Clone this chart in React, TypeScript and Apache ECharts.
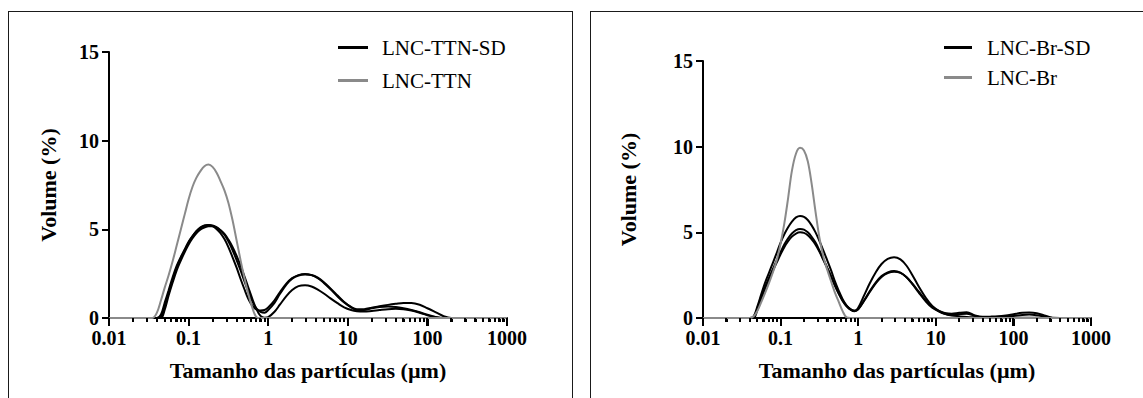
import React, { useEffect, useRef } from "react";
import * as echarts from "echarts";

// Particle sizes (µm) shared by every curve
const particleSizes = [
  0.01, 0.035, 0.04, 0.045, 0.05, 0.056, 0.063, 0.071, 0.08, 0.09,
  0.1, 0.112, 0.125, 0.14, 0.158, 0.178, 0.2, 0.224, 0.25, 0.282,
  0.316, 0.355, 0.4, 0.45, 0.5, 0.56, 0.63, 0.71, 0.8, 0.9,
  1, 1.2, 1.4, 1.7, 2, 2.4, 2.9, 3.5, 4.2, 5,
  6, 7.5, 9, 11, 13, 16, 20, 25, 32, 40,
  50, 63, 80, 100, 130, 160, 200, 250, 320, 1000,
];

// Left panel: LNC-TTN-SD replicates (black) and LNC-TTN (gray)
const ttnSD1 = [
  0, 0, 0, 0.2, 0.85, 1.55, 2.3, 2.95, 3.45, 3.9,
  4.3, 4.62, 4.9, 5.1, 5.22, 5.25, 5.18, 5.02, 4.8, 4.45,
  4.0, 3.45, 2.85, 2.2, 1.65, 1.1, 0.7, 0.48, 0.42, 0.45,
  0.6, 1.0, 1.45, 1.95, 2.25, 2.42, 2.48, 2.42, 2.25, 1.98,
  1.65, 1.2, 0.88, 0.62, 0.5, 0.5, 0.58, 0.66, 0.74, 0.8,
  0.85, 0.85, 0.75, 0.55, 0.3, 0.1, 0, 0, 0, 0,
];
const ttnSD2 = [
  0, 0, 0, 0.05, 0.65, 1.4, 2.15, 2.85, 3.4, 3.85,
  4.25, 4.6, 4.88, 5.08, 5.2, 5.25, 5.22, 5.12, 4.95, 4.7,
  4.32, 3.85, 3.28, 2.68, 2.1, 1.5, 0.95, 0.55, 0.35, 0.3,
  0.45, 0.85, 1.35, 1.9, 2.22, 2.4, 2.46, 2.43, 2.28, 2.02,
  1.68, 1.25, 0.9, 0.6, 0.45, 0.45, 0.55, 0.62, 0.65, 0.62,
  0.55, 0.45, 0.32, 0.18, 0.05, 0, 0, 0, 0, 0,
];
const ttnSD3 = [
  0, 0, 0, 0, 0.45, 1.25, 2.0, 2.7, 3.25, 3.75,
  4.15, 4.5, 4.78, 4.98, 5.1, 5.18, 5.18, 5.1, 4.96, 4.74,
  4.42, 4.02, 3.52, 2.95, 2.38, 1.75, 1.1, 0.5, 0.12, 0.02,
  0.05, 0.35, 0.75, 1.25, 1.58, 1.8, 1.85, 1.78, 1.6, 1.38,
  1.12, 0.82, 0.6, 0.45, 0.38, 0.36, 0.4, 0.45, 0.5, 0.52,
  0.5, 0.42, 0.3, 0.15, 0.04, 0, 0, 0, 0, 0,
];
const ttnRef = [
  0, 0, 0.3, 1.0, 1.7, 2.4, 3.2, 4.1, 5.0, 5.9,
  6.7, 7.4, 7.9, 8.27, 8.56, 8.65, 8.52, 8.2, 7.75, 7.2,
  6.5, 5.55, 4.4, 3.25, 2.3, 1.4, 0.6, 0.05, 0, 0,
  0, 0, 0, 0, 0, 0, 0, 0, 0, 0,
  0, 0, 0, 0, 0, 0, 0, 0, 0, 0,
  0, 0, 0, 0, 0, 0, 0, 0, 0, 0,
];

// Right panel: LNC-Br-SD replicates (black) and LNC-Br (gray)
const brSD1 = [
  0, 0, 0, 0.1, 0.65, 1.35, 2.05, 2.65, 3.25, 3.85,
  4.4, 4.9, 5.3, 5.63, 5.87, 5.95, 5.9, 5.72, 5.42, 5.0,
  4.5, 3.95, 3.35, 2.75, 2.15, 1.6, 1.1, 0.72, 0.5, 0.42,
  0.6, 1.35, 2.0, 2.7, 3.15, 3.45, 3.55, 3.42, 3.05, 2.5,
  1.85, 1.15, 0.7, 0.42, 0.3, 0.25, 0.3, 0.33, 0.15, 0.07,
  0.08, 0.1, 0.15, 0.22, 0.3, 0.32, 0.28, 0.15, 0.02, 0,
];
const brSD2 = [
  0, 0, 0, 0.05, 0.55, 1.2, 1.8, 2.35, 2.88, 3.4,
  3.85, 4.3, 4.65, 4.93, 5.13, 5.2, 5.16, 5.0, 4.75, 4.4,
  3.95, 3.45, 2.92, 2.4, 1.9, 1.42, 1.0, 0.68, 0.48, 0.4,
  0.5, 1.05, 1.55, 2.1, 2.45, 2.66, 2.74, 2.65, 2.38, 1.98,
  1.5, 0.95, 0.6, 0.38, 0.25, 0.18, 0.22, 0.25, 0.12, 0.05,
  0.05, 0.05, 0.08, 0.12, 0.18, 0.2, 0.16, 0.08, 0, 0,
];
const brSD3 = [
  0, 0, 0, 0, 0.45, 1.1, 1.7, 2.25, 2.78, 3.28,
  3.72, 4.15, 4.48, 4.75, 4.93, 5.0, 4.97, 4.83, 4.6, 4.28,
  3.88, 3.4, 2.9, 2.4, 1.92, 1.45, 1.02, 0.7, 0.5, 0.42,
  0.52, 1.02, 1.5, 2.05, 2.4, 2.62, 2.7, 2.63, 2.38, 2.0,
  1.55, 1.0, 0.65, 0.4, 0.25, 0.15, 0.1, 0.06, 0.04, 0.03,
  0.03, 0.03, 0.03, 0.02, 0.02, 0.02, 0.01, 0, 0, 0,
];
const brRef = [
  0, 0, 0, 0.1, 0.4, 0.9, 1.45, 2.05, 2.7, 3.45,
  4.35, 5.55, 7.0, 8.6, 9.6, 9.93, 9.78, 9.15, 7.9, 6.2,
  4.7, 3.6, 2.8, 2.1, 1.5, 0.95, 0.4, 0.03, 0, 0,
  0, 0, 0, 0, 0, 0, 0, 0, 0, 0,
  0, 0, 0, 0, 0, 0, 0, 0, 0, 0,
  0, 0, 0, 0, 0, 0, 0, 0, 0, 0,
];

const xTickValues = [0.01, 0.1, 1, 10, 100, 1000];
const xTickLabels = ["0.01", "0.1", "1", "10", "100", "1000"];
const minorMultipliers = [2, 3, 4, 5, 6, 7, 8, 9];
const minorTickValues = xTickValues
  .slice(0, 5)
  .flatMap((d) => minorMultipliers.map((m) => Number((d * m).toPrecision(3))));

const FONT = "Liberation Serif";
const BLACK = "#000000";
const GRAY = "#8a8a8a";

const pairs = (vals: number[]) => particleSizes.map((s, i) => [s, vals[i]]);

const lineSeries = (name: string, vals: number[], color: string, axisIdx: number) => ({
  type: "line",
  name,
  data: pairs(vals),
  xAxisIndex: axisIdx,
  yAxisIndex: axisIdx,
  smooth: 0.35,
  symbol: "none",
  lineStyle: { color, width: 2 },
  itemStyle: { color },
});

const labelFor = (v: number) => xTickLabels[Math.round(Math.log10(v)) + 2] ?? "";

const mainX = (gridIndex: number) => ({
  type: "log",
  logBase: 10,
  gridIndex,
  min: 0.01,
  max: 1000,
  name: "Tamanho das partículas (µm)",
  nameLocation: "middle",
  nameGap: 41,
  nameTextStyle: { fontFamily: FONT, fontWeight: "bold", fontSize: 22, color: BLACK },
  axisLine: { show: true, lineStyle: { color: BLACK, width: 2 } },
  axisTick: { show: true, length: 8, lineStyle: { color: BLACK, width: 2 } },
  minorTick: { show: true, splitNumber: 9, length: 4, lineStyle: { color: BLACK, width: 2 } },
  axisLabel: {
    formatter: labelFor,
    margin: 10,
    fontFamily: FONT,
    fontSize: 20,
    fontWeight: "bold",
    color: BLACK,
  },
  splitLine: { show: false },
});

const yAx = (gridIndex: number, nameGap: number) => ({
  type: "value",
  gridIndex,
  min: 0,
  max: 15,
  interval: 5,
  name: "Volume (%)",
  nameLocation: "middle",
  nameGap,
  nameRotate: 90,
  nameTextStyle: { fontFamily: FONT, fontWeight: "bold", fontSize: 22, color: BLACK },
  axisLine: { show: true, lineStyle: { color: BLACK, width: 2 } },
  axisTick: { show: true, length: 7, lineStyle: { color: BLACK, width: 2 } },
  axisLabel: { margin: 10, fontFamily: FONT, fontSize: 20, fontWeight: "bold", color: BLACK },
  splitLine: { show: false },
});

const legendCfg = (names: string[], left: number, top: number, itemWidth: number, itemGap: number, pad: number) => ({
  data: names,
  orient: "vertical",
  left,
  top,
  padding: 0,
  itemWidth,
  itemHeight: 3,
  itemGap,
  icon: "rect",
  selectedMode: false,
  textStyle: { fontFamily: FONT, fontSize: 21, color: BLACK, padding: [0, 0, 0, pad] },
});

const panelBox = (left: number, width: number): React.CSSProperties => ({
  position: "absolute",
  left,
  top: 11,
  width,
  height: 420,
  border: "1.5px solid #1a1a1a",
  boxSizing: "border-box",
  pointerEvents: "none",
});

export default function App() {
  const ref = useRef<HTMLDivElement>(null);
  const tickRef = useRef<HTMLDivElement>(null);
  useEffect(() => {
    if (!ref.current) return;
    const chart = echarts.init(ref.current, undefined, { renderer: "svg" });
    chart.setOption({
      animation: false,
      grid: [
        { left: 109, top: 52, width: 398, height: 266 },
        { left: 703, top: 61, width: 388, height: 257 },
      ],
      xAxis: [mainX(0), mainX(1)],
      yAxis: [yAx(0, 50), yAx(1, 64)],
      legend: [
        legendCfg(["LNC-TTN-SD", "LNC-TTN"], 338, 37, 30, 12, 9),
        legendCfg(["LNC-Br-SD", "LNC-Br"], 944, 37, 28, 9, 10),
      ],
      series: [
        lineSeries("LNC-TTN-SD", ttnSD1, BLACK, 0),
        lineSeries("LNC-TTN-SD", ttnSD2, BLACK, 0),
        lineSeries("LNC-TTN-SD", ttnSD3, BLACK, 0),
        lineSeries("LNC-TTN", ttnRef, GRAY, 0),
        lineSeries("LNC-Br-SD", brSD1, BLACK, 1),
        lineSeries("LNC-Br-SD", brSD2, BLACK, 1),
        lineSeries("LNC-Br-SD", brSD3, BLACK, 1),
        lineSeries("LNC-Br", brRef, GRAY, 1),
      ],
    });

    // x-axis tick marks placed through the chart's own log scales
    const overlay = tickRef.current;
    if (overlay) {
      overlay.innerHTML = "";
      [0, 1].forEach((axisIdx) => {
        const y0 = chart.convertToPixel({ yAxisIndex: axisIdx }, 0) as number;
        const marks: [number, number][] = [
          ...xTickValues.map((v) => [v, 8] as [number, number]),
          ...minorTickValues.map((v) => [v, 4] as [number, number]),
        ];
        marks.forEach(([v, len]) => {
          const x = chart.convertToPixel({ xAxisIndex: axisIdx }, v) as number;
          if (!isFinite(x) || !isFinite(y0)) return;
          const d = document.createElement("div");
          d.style.cssText = `position:absolute;left:${x - 1}px;top:${y0}px;width:2px;height:${len}px;background:#000;`;
          overlay.appendChild(d);
        });
      });
    }
    return () => {
      if (overlay) overlay.innerHTML = "";
      chart.dispose();
    };
  }, []);
  return (
    <div style={{ position: "absolute", left: 0, top: 0, width: 1143, height: 398, overflow: "hidden", background: "#fff" }}>
      <div style={panelBox(8, 565)} />
      <div style={panelBox(590, 600)} />
      <div ref={ref} style={{ position: "absolute", left: 0, top: 0, width: 1143, height: 398 }} />
      <div ref={tickRef} style={{ position: "absolute", left: 0, top: 0, width: 1143, height: 398, pointerEvents: "none" }} />
    </div>
  );
}
